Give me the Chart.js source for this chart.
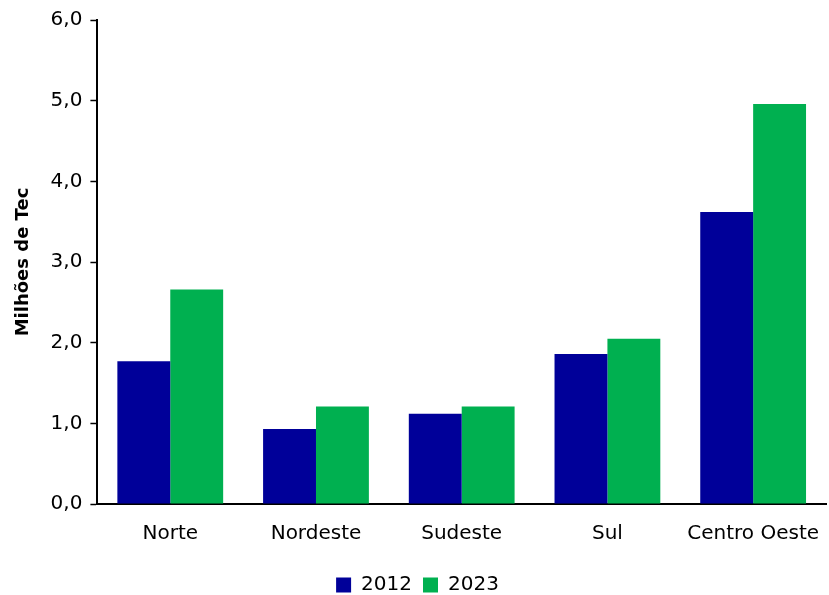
<!DOCTYPE html>
<html>
<head>
<meta charset="utf-8">
<script src="https://cdn.jsdelivr.net/npm/chart.js@4/dist/chart.umd.min.js"></script>
<style>
  html, body { margin: 0; padding: 0; background: #fff; overflow: hidden; }
  #wrap { width: 829px; height: 595px; }
</style>
</head>
<body>
<div id="wrap"><canvas id="barChart"></canvas></div>
<script>
const regions = ["Norte", "Nordeste", "Sudeste", "Sul", "Centro Oeste"];
const values2012 = [1.77, 0.93, 1.12, 1.86, 3.62];
const values2023 = [2.66, 1.21, 1.21, 2.05, 4.96];
const yTicks = [0, 1, 2, 3, 4, 5, 6];

Chart.defaults.font.family = "'DejaVu Sans', sans-serif";
Chart.defaults.color = "#000";

const ctx = document.getElementById("barChart").getContext("2d");
new Chart(ctx, {
    type: "bar",
    data: {
        labels: regions,
        datasets: [
            { label: "2012", data: values2012, backgroundColor: "#000099" },
            { label: "2023", data: values2023, backgroundColor: "#00B050" }
        ]
    },
    options: {
        responsive: true,
        maintainAspectRatio: false,
        animation: false,
        layout: { padding: { top: 9, right: 3, left: 9, bottom: 0 } },
        datasets: { bar: { barPercentage: 1, categoryPercentage: 0.726 } },
        plugins: {
            legend: {
                position: "bottom",
                maxHeight: 31,
                labels: { boxWidth: 15, boxHeight: 15, padding: 11, font: { size: 20 } }
            },
            tooltip: { enabled: false }
        },
        scales: {
            x: {
                grid: { display: false, drawTicks: false },
                border: { color: "#000", width: 2 },
                ticks: { font: { size: 20 }, padding: 18 },
                afterFit: s => { s.paddingRight = 0; }
            },
            y: {
                min: 0,
                max: 6,
                afterBuildTicks: axis => { axis.ticks = yTicks.map(v => ({ value: v })); },
                grid: { drawOnChartArea: false, color: "#000", tickLength: 7, tickWidth: 1.5 },
                border: { color: "#000", width: 2 },
                ticks: {
                    font: { size: 20 },
                    padding: 8,
                    callback: v => v.toFixed(1).replace(".", ",")
                },
                title: {
                    display: true,
                    text: "Milhões de Tec",
                    font: { size: 18, weight: "bold" },
                    padding: { bottom: 8 }
                }
            }
        }
    }
});
</script>
</body>
</html>
